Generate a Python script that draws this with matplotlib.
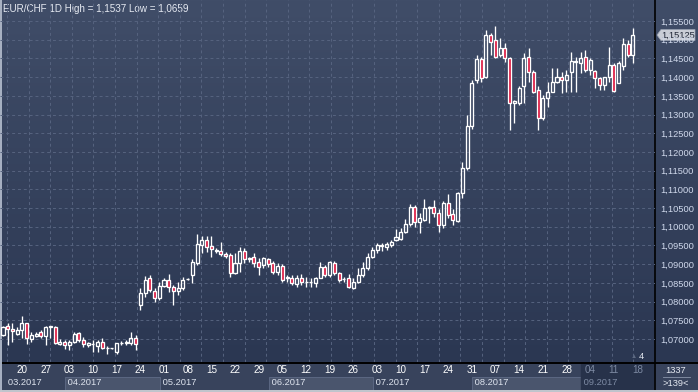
import numpy as np
import pandas as pd
import matplotlib
matplotlib.use("Agg")
import matplotlib.pyplot as plt
from matplotlib.patches import Rectangle, Polygon
from matplotlib.transforms import blended_transform_factory

plt.rcParams["font.family"] = ["Liberation Sans", "DejaVu Sans"]

# daily EUR/CHF candles
start_date = "2017-03-14"
opens = [
    1.0711, 1.0735, 1.0726, 1.0712, 1.0724, 1.0742, 1.0700, 1.0709, 1.0718, 1.0708,
    1.0733, 1.0731, 1.0686, 1.0693, 1.0684, 1.0693, 1.0717, 1.0697, 1.0683, 1.0686,
    1.0681, 1.0693, 1.0677, 1.0675, 1.0666, 1.0688, 1.0690, 1.0690, 1.0702,
    1.0791, 1.0822, 1.0862, 1.0828, 1.0809, 1.0842, 1.0858, 1.0840, 1.0827, 1.0835,
    1.0860, 1.0871, 1.0902, 1.0951, 1.0965, 1.0948, 1.0936, 1.0936, 1.0927, 1.0925,
    1.0877, 1.0904, 1.0936, 1.0915, 1.0920,
    1.0907, 1.0898, 1.0914, 1.0902, 1.0880, 1.0896, 1.0862, 1.0864, 1.0846, 1.0864,
    1.0851, 1.0852, 1.0849, 1.0864, 1.0893, 1.0871, 1.0902, 1.0876, 1.0860, 1.0862,
    1.0837, 1.0853, 1.0871, 1.0889, 1.0920, 1.0938, 1.0949, 1.0947, 1.0952,
    1.0965, 1.0967, 1.0987, 1.1007, 1.1052, 1.1014, 1.1018, 1.1050, 1.1052, 1.1036,
    1.1005, 1.1063, 1.1034, 1.1016, 1.1091, 1.1156, 1.1269,
    1.1391, 1.1448, 1.1399, 1.1513, 1.1499, 1.1459, 1.1477, 1.1450, 1.1330, 1.1330,
    1.1375, 1.1455, 1.1415, 1.1366, 1.1290, 1.1343, 1.1361, 1.1388, 1.1399, 1.1391,
    1.1415, 1.1441, 1.1439, 1.1453, 1.1419, 1.1416, 1.1397, 1.1379, 1.1399, 1.1433,
    1.1385, 1.1430, 1.1489, 1.1459,
]
highs = [
    1.0735, 1.0744, 1.0742, 1.0733, 1.0761, 1.0744, 1.0720, 1.0720, 1.0724, 1.0735,
    1.0735, 1.0735, 1.0699, 1.0697, 1.0697, 1.0718, 1.0719, 1.0704, 1.0693, 1.0697,
    1.0697, 1.0702, 1.0681, 1.0676, 1.0690, 1.0695, 1.0697, 1.0719, 1.0711,
    1.0835, 1.0868, 1.0871, 1.0835, 1.0853, 1.0862, 1.0875, 1.0844, 1.0853, 1.0867,
    1.0862, 1.0913, 1.0981, 1.0975, 1.0974, 1.0975, 1.0942, 1.0960, 1.0933, 1.0931,
    1.0929, 1.0947, 1.0942, 1.0920, 1.0929,
    1.0916, 1.0920, 1.0917, 1.0908, 1.0902, 1.0900, 1.0871, 1.0871, 1.0871, 1.0873,
    1.0867, 1.0862, 1.0867, 1.0905, 1.0898, 1.0909, 1.0909, 1.0880, 1.0867, 1.0873,
    1.0864, 1.0889, 1.0907, 1.0929, 1.0947, 1.0956, 1.0956, 1.0960, 1.0965,
    1.0993, 1.0996, 1.1020, 1.1061, 1.1058, 1.1038, 1.1073, 1.1056, 1.1072, 1.1047,
    1.1070, 1.1088, 1.1047, 1.1094, 1.1174, 1.1299, 1.1392,
    1.1459, 1.1455, 1.1526, 1.1519, 1.1537, 1.1504, 1.1490, 1.1455, 1.1340, 1.1375,
    1.1464, 1.1479, 1.1419, 1.1375, 1.1352, 1.1388, 1.1424, 1.1424, 1.1415, 1.1419,
    1.1468, 1.1455, 1.1468, 1.1473, 1.1450, 1.1419, 1.1401, 1.1401, 1.1481, 1.1437,
    1.1442, 1.1504, 1.1499, 1.1530,
]
lows = [
    1.0709, 1.0684, 1.0693, 1.0710, 1.0702, 1.0686, 1.0693, 1.0706, 1.0702, 1.0684,
    1.0702, 1.0686, 1.0684, 1.0672, 1.0670, 1.0688, 1.0693, 1.0679, 1.0679, 1.0666,
    1.0666, 1.0672, 1.0659, 1.0674, 1.0661, 1.0684, 1.0684, 1.0684, 1.0670,
    1.0777, 1.0811, 1.0826, 1.0800, 1.0804, 1.0840, 1.0826, 1.0791, 1.0818, 1.0831,
    1.0859, 1.0849, 1.0898, 1.0929, 1.0933, 1.0920, 1.0929, 1.0922, 1.0916, 1.0867,
    1.0875, 1.0880, 1.0902, 1.0907, 1.0893,
    1.0871, 1.0889, 1.0893, 1.0873, 1.0871, 1.0853, 1.0851, 1.0843, 1.0840, 1.0844,
    1.0840, 1.0840, 1.0840, 1.0862, 1.0867, 1.0867, 1.0871, 1.0853, 1.0851, 1.0835,
    1.0834, 1.0849, 1.0867, 1.0884, 1.0916, 1.0929, 1.0934, 1.0938, 1.0945,
    1.0962, 1.0964, 1.0984, 1.1002, 1.0999, 1.0984, 1.1016, 1.1009, 1.1027, 1.0987,
    1.0996, 1.1023, 1.1005, 1.1014, 1.1076, 1.1153, 1.1262,
    1.1383, 1.1388, 1.1397, 1.1459, 1.1450, 1.1453, 1.1441, 1.1259, 1.1277, 1.1325,
    1.1330, 1.1388, 1.1357, 1.1259, 1.1286, 1.1321, 1.1359, 1.1383, 1.1357, 1.1361,
    1.1359, 1.1361, 1.1410, 1.1415, 1.1406, 1.1370, 1.1366, 1.1366, 1.1388, 1.1359,
    1.1385, 1.1419, 1.1455, 1.1437,
]
closes = [
    1.0733, 1.0726, 1.0722, 1.0724, 1.0742, 1.0702, 1.0711, 1.0712, 1.0708, 1.0733,
    1.0734, 1.0688, 1.0693, 1.0684, 1.0693, 1.0712, 1.0697, 1.0686, 1.0688, 1.0687,
    1.0693, 1.0677, 1.0675, 1.0675, 1.0688, 1.0690, 1.0691, 1.0702, 1.0686,
    1.0822, 1.0858, 1.0831, 1.0809, 1.0842, 1.0858, 1.0840, 1.0829, 1.0835, 1.0858,
    1.0861, 1.0907, 1.0954, 1.0965, 1.0947, 1.0940, 1.0937, 1.0927, 1.0922, 1.0877,
    1.0904, 1.0936, 1.0913, 1.0916, 1.0902,
    1.0892, 1.0916, 1.0900, 1.0880, 1.0896, 1.0858, 1.0865, 1.0849, 1.0864, 1.0851,
    1.0853, 1.0852, 1.0864, 1.0893, 1.0871, 1.0905, 1.0876, 1.0858, 1.0861, 1.0840,
    1.0853, 1.0871, 1.0889, 1.0920, 1.0938, 1.0951, 1.0950, 1.0953, 1.0958,
    1.0972, 1.0987, 1.1007, 1.1052, 1.1014, 1.1023, 1.1049, 1.1054, 1.1036, 1.1005,
    1.1063, 1.1032, 1.1018, 1.1091, 1.1156, 1.1269, 1.1383,
    1.1448, 1.1397, 1.1513, 1.1495, 1.1453, 1.1477, 1.1450, 1.1330, 1.1335, 1.1370,
    1.1451, 1.1415, 1.1361, 1.1290, 1.1343, 1.1361, 1.1388, 1.1401, 1.1392, 1.1406,
    1.1442, 1.1442, 1.1450, 1.1419, 1.1446, 1.1397, 1.1379, 1.1399, 1.1433, 1.1364,
    1.1437, 1.1489, 1.1459, 1.1513,
]
price_ticks = np.arange(1.070, 1.1551, 0.005)
last_price = 1.15125
title = "EUR/CHF 1D High = 1,1537 Low = 1,0659"

W, H = 698, 392
PANEL_X = 655     # right price panel starts here (px)
PANEL_Y = 362     # date panel starts here (px)
PX_PER_BAR = 4.735
FIRST_BAR_PX = 3

BG_TOP = np.array([64, 77, 104]) / 255
BG_BOT = np.array([43, 55, 82]) / 255
RED = "#dc143c"
GRID = "#56637f"


def main():
    n = len(closes)
    dates = pd.bdate_range(start_date, periods=n + 6)
    idx = np.arange(n)

    fig = plt.figure(figsize=(W / 100, H / 100), dpi=100)

    # background canvas in pixel coords
    bg = fig.add_axes([0, 0, 1, 1])
    bg.set_xlim(0, W)
    bg.set_ylim(H, 0)
    bg.axis("off")
    grad = np.linspace(0, 1, 256)[:, None, None]
    img = BG_TOP * (1 - grad) + BG_BOT * grad
    img = np.repeat(img, 2, axis=1)
    bg.imshow(img, extent=[0, W, PANEL_Y, 0], aspect="auto", zorder=0)
    bg.add_patch(Rectangle((0, PANEL_Y), W, H - PANEL_Y, color="#38435c", zorder=1))

    ax = fig.add_axes([0, (H - PANEL_Y) / H, PANEL_X / W, PANEL_Y / H])
    ax.set_facecolor("none")
    for s in ax.spines.values():
        s.set_visible(False)
    ymin = 1.155 - (PANEL_Y - 21) / 3741
    ymax = 1.155 + 21 / 3741
    ax.set_ylim(ymin, ymax)
    x_left = -FIRST_BAR_PX / PX_PER_BAR
    x_right = (PANEL_X - FIRST_BAR_PX) / PX_PER_BAR
    ax.set_xlim(x_left, x_right)

    # grid
    for p in price_ticks:
        ax.axhline(p, color=GRID, lw=0.7, ls=(0, (3, 3)), zorder=1)
    for gx in np.arange(0.85, x_right, 4.56):
        ax.axvline(gx, color=GRID, lw=0.7, ls=(0, (3, 3)), zorder=1)

    # candles
    body_w = 0.64
    for i in idx:
        o, h, l, c = opens[i], highs[i], lows[i], closes[i]
        top, bot = max(o, c), min(o, c)
        ax.plot([i, i], [top, h], color="white", lw=0.95, zorder=3, solid_capstyle="butt")
        ax.plot([i, i], [l, bot], color="white", lw=0.95, zorder=3, solid_capstyle="butt")
        face = RED if c < o else "none"
        ax.add_patch(Rectangle((i - body_w / 2, bot), body_w, top - bot,
                               facecolor=face, edgecolor="white", lw=0.95, zorder=4))

    # price labels on the right
    ax.yaxis.tick_right()
    ax.set_yticks(price_ticks)
    ax.set_yticklabels([f"{p:.5f}".replace(".", ",") for p in price_ticks])
    ax.tick_params(axis="y", length=0, pad=4, labelsize=6.7, labelcolor="#d0d9ec")

    # day labels (Mondays)
    mondays = [i for i, d in enumerate(dates) if d.dayofweek == 0 and i <= x_right]
    ax.set_xticks(mondays)
    ax.set_xticklabels([dates[i].strftime("%d") for i in mondays])
    ax.tick_params(axis="x", length=0, pad=2.5, labelsize=7.1, labelcolor="white")
    for i, lab in zip(mondays, ax.get_xticklabels()):
        if dates[i].month == 9:
            lab.set_color("#7d8aa3")

    # month labels / boxes
    blend = blended_transform_factory(ax.transData, bg.transData)
    month_starts = [0] + [i for i in range(1, len(dates)) if dates[i].month != dates[i - 1].month]
    for k, ms in enumerate(month_starts):
        if ms > x_right:
            break
        nxt = month_starts[k + 1] if k + 1 < len(month_starts) else x_right + 0.5
        x0 = max(ms - 0.9, x_left)
        x1 = min(nxt - 0.9, x_right)
        m = dates[ms].month
        col = "#dde3ee"
        if m == 9:
            bg.add_patch(Rectangle((x0, PANEL_Y), x1 - x0, H - PANEL_Y, transform=blend,
                                   color="#27324a", zorder=2))
            col = "#7d8aa3"
        elif m % 2 == 0:
            bg.add_patch(Rectangle((x0, 377), x1 - x0, 13, transform=blend,
                                   facecolor="#4a556d", edgecolor="#5b6782", lw=0.7, zorder=2))
        label = " " + dates[ms].strftime("%m.%Y")
        if ms == 0:
            label = "  " + label
        bg.text(x0, 382.5, label, transform=blend,
                fontsize=6.7, color=col, va="center", ha="left", zorder=3)

    # title
    bg.text(3, 9, title, fontsize=7.1, color="#e6eaf2", va="center", ha="left", zorder=5)

    # frame lines
    bg.plot([0, W], [PANEL_Y + 0.5, PANEL_Y + 0.5], color="black", lw=1.4, zorder=6)
    bg.plot([PANEL_X, PANEL_X], [0, H - 2], color="black", lw=1.2, zorder=6)
    bg.plot([1, 1], [0, H], color="#aab3c4", lw=1.4, zorder=6)
    bg.plot([0, W], [H - 1, H - 1], color="#c4c8d0", lw=1.4, zorder=6)

    # bar counter bottom-right
    bg.text(676, 370.5, "1337", fontsize=6.7, color="#e6eaf2", ha="center", va="center", zorder=6)
    bg.plot([663, 690], [377, 377], color="#8a95aa", lw=0.6, zorder=6)
    bg.text(676, 383.5, ">139<", fontsize=6.7, color="#e6eaf2", ha="center", va="center", zorder=6)
    bg.text(634, 357, "\u25b2", fontsize=4.5, color="#5e6a82", ha="center", va="center", zorder=6)
    bg.text(641, 356.5, "4", fontsize=6.7, color="#e6eaf2", ha="center", va="center", zorder=6)

    # last price tag
    ytag = blended_transform_factory(bg.transData, ax.transData)
    hh = 5.5 / PANEL_Y * (ymax - ymin)
    tag = Polygon([(657, last_price), (661, last_price + hh), (695, last_price + hh),
                   (695, last_price - hh), (661, last_price - hh)], closed=True,
                  transform=ytag, facecolor="#c9cdd6", edgecolor="#9aa2b2", lw=0.5, zorder=7)
    bg.add_patch(tag)
    bg.text(678, last_price, f"{last_price:.5f}".replace(".", ","), transform=ytag,
            fontsize=6.7, color="#1e2535", ha="center", va="center", zorder=8)

    fig.savefig("out.png", dpi=100)


if __name__ == "__main__":
    main()
